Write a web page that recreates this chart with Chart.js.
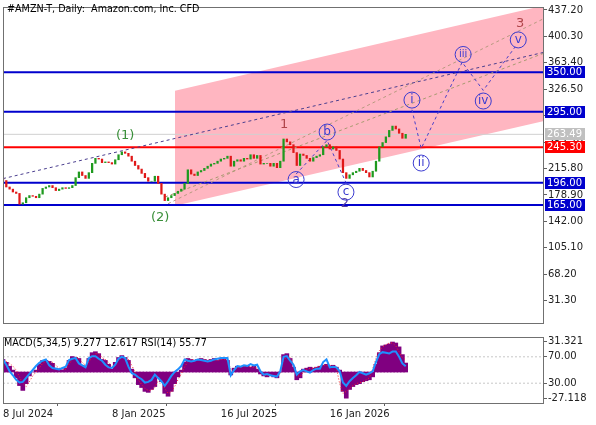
<!DOCTYPE html>
<html><head><meta charset="utf-8">
<script src="https://cdn.jsdelivr.net/npm/chart.js@4.4.1/dist/chart.umd.min.js"></script>
<style>
html,body{margin:0;padding:0;background:#fff;}
#wrap{position:relative;width:596px;height:425px;overflow:hidden;background:#fff;}
#c1{position:absolute;left:0;top:0;}
#c2{position:absolute;left:0;top:330px;}
.txt{position:absolute;font-family:"DejaVu Sans";font-size:9.6px;color:#000;white-space:pre;}
</style></head>
<body>
<div id="wrap">
<canvas id="c1" width="596" height="330"></canvas>
<canvas id="c2" width="596" height="95"></canvas>
<div class="txt" id="title" style="left:7px;top:3px;">#AMZN-T, Daily:  Amazon.com, Inc. CFD</div>
<div class="txt" id="mlab" style="left:4px;top:337px;">MACD(5,34,5) 9.277 12.617 RSI(14) 55.77</div>
</div>
<script>
// ---------- data ----------
const xMax = 163.6;
const xTickIdx = [0, 33, 66, 99];
const xTickLabels = ["8 Jul 2024", "8 Jan 2025", "16 Jul 2025", "16 Jan 2026"];
const yTickValues = [437.20, 400.30, 363.40, 326.50, 289.60, 252.70, 215.80, 178.90, 142.00, 105.10, 68.20, 31.30];
const firstOpen = 202;
const closes = [
 199,190,187,183,181,166,168,175,178,177,
 175,180,188,190,192,189,185,187,189,188,
 189,192,203,211,206,202,210,223,230,229,
 224,225,224,222,228,235,239,237,233,226,
 220,215,209,203,198,198,205,195,180,171,
 175,178,181,184,187,195,214,208,206,211,
 213,216,219,222,223,226,229,230,233,219,
 226,228,226,230,229,235,230,234,222,223,
 223,219,223,217,226,257,253,249,238,220,
 236,234,230,226,231,233,235,246,249,243,
 246,241,229,210,202,207,210,212,216,213,
 210,204,212,226,246,252,260,269,275,271,
 265,258,263.49];
const blueLevels = [350, 295, 196, 165];
const redLevels = [245.3];
const lastPrice = 263.49;
const channelUpper = [[52.1, 324.5], [163.6, 443.0]];
const channelLower = [[52.1, 163.9], [163.6, 281.6]];
const trendPurple = [[0, 201.7], [163.6, 377.7]];
const trendTanA = [[49.1, 176.0], [163.6, 376.3]];
const trendTanB = [[50.0, 166.6], [163.6, 424.5]];
const abcPath = [[88.8, 208], [98.2, 255], [103.9, 196]];
const wavePath = [[123.9, 297.8], [126.7, 243.7], [139.1, 364.1], [145.5, 324.9], [155.2, 385.8]];
const waveText = ["(1)", "(2)", "1", "2", "3"];
const waveTextX = [37.0, 47.6, 85.2, 103.6, 156.7];
const waveTextY = [261.3, 147.6, 277.5, 166.6, 418.3];
const circText = ["a", "b", "c", "i", "ii", "iii", "iv", "v"];
const circX = [88.8, 98.2, 103.9, 123.9, 126.7, 139.4, 145.5, 156.1];
const circY = [200.4, 266.7, 182.8, 311.3, 223.4, 375.0, 310.0, 395.3];

const macdHist = [
 13,10,6,2,-6,-14,-19,-12,-4,0,
 2,8,12,12,11,9,4,3,2,4,
 12,16,15,14,7,5,14,20,21,19,
 13,12,8,3,10,15,17,15,12,3,
 -6,-13,-16,-20,-21,-18,-15,-5,-10,-22,
 -25,-20,-12,-5,2,10,14,13,12,13,
 14,13,12,13,14,12,13,14,12,-3,
 4,6,5,6,7,5,6,3,-2,-4,
 -5,-3,-5,-6,0,18,19,14,5,-8,
 -6,3,4,5,4,5,6,7,8,6,
 7,5,2,-20,-27,-18,-15,-13,-12,-10,
 -9,-8,-5,8,20,27,28,29,31,30,
 26,18,9.277];
const macdSignal = [
 12,11,9,6,2,-5,-12,-15,-10,-4,
 0,4,9,11,11,10,7,4,3,3,
 8,13,15,14,10,7,10,16,19,19,
 15,13,10,6,7,12,15,15,13,7,
 0,-8,-13,-17,-19,-19,-16,-9,-9,-17,
 -22,-21,-15,-8,-2,5,11,13,12,13,
 13,13,12,13,13,12,13,13,12,3,
 2,5,5,6,6,5,5,4,0,-3,
 -4,-3,-4,-5,-2,12,16,15,8,-3,
 -5,0,3,4,4,5,6,7,7,7,
 6,4,-12,-22,-20,-17,-14,-12,-11,-10,
 -8,-6,3,14,22,26,28,30,30,27,
 21,15,12.617];
const rsiValues = [
 66,58,48,42,35,31,32,38,44,50,
 56,61,64,66,57,53,52,51,53,55,
 65,67,68,60,57,54,68,71,71,67,
 64,58,54,53,58,67,70,68,55,45,
 43,39,36,31,32,35,43,38,33,26,
 33,41,47,51,56,66,64,63,64,66,
 65,64,63,64,66,67,68,68,68,42,
 50,56,55,57,56,59,57,58,48,43,
 44,42,41,40,48,70,71,64,58,43,
 48,50,48,46,50,52,52,62,66,54,
 55,54,48,31,26,33,38,42,47,45,
 43,45,48,62,74,77,76,75,78,78,
 70,60,55.77];
const macdTicks = [31.321, -27.118];
const rsiLevels = [70, 30];
const macdMin = -31.99, macdMax = 36.19;

// ---------- helpers ----------
const pts = a => a.map(p => ({x: p[0], y: p[1]}));
const hline = v => [{x: 0, y: v}, {x: xMax, y: v}];
const FONT = 'DejaVu Sans';
const GREEN = '#1f9a1f', RED = '#e01818', BLUE = '#0000cd';

const framePlugin = {
  id: 'frame',
  afterDraw(chart) {
    const {ctx, chartArea: a} = chart;
    ctx.save();
    ctx.strokeStyle = '#707070';
    ctx.lineWidth = 1;
    ctx.strokeRect(a.left + 0.5, a.top + 0.5, a.right - a.left, a.bottom - a.top);
    ctx.restore();
  }
};

const labelPlugin = {
  id: 'waveLabels',
  afterDatasetsDraw(chart) {
    const {ctx, scales: {x, y}} = chart;
    ctx.save();
    ctx.textAlign = 'center';
    ctx.textBaseline = 'middle';
    const colors = ['#3a8f3a', '#3a8f3a', '#b0454a', '#5a3fa0', '#b0454a'];
    waveText.forEach((t, i) => {
      ctx.font = '13px ' + FONT;
      ctx.fillStyle = colors[i];
      ctx.fillText(t, x.getPixelForValue(waveTextX[i]), y.getPixelForValue(waveTextY[i]));
    });
    circText.forEach((t, i) => {
      const px = x.getPixelForValue(circX[i]), py = y.getPixelForValue(circY[i]);
      ctx.beginPath();
      ctx.arc(px, py, 8, 0, Math.PI * 2);
      ctx.strokeStyle = '#3b3bd0';
      ctx.lineWidth = 1;
      ctx.stroke();
      ctx.fillStyle = '#3b3bd0';
      ctx.font = (t.length > 2 ? '10px ' : '12px ') + FONT;
      ctx.fillText(t, px, py);
    });
    ctx.restore();
  },
  afterDraw(chart) {
    const {ctx, scales: {y}, chartArea: a} = chart;
    ctx.save();
    ctx.font = '10px ' + FONT;
    ctx.textBaseline = 'middle';
    ctx.textAlign = 'left';
    const box = (v, bg) => {
      const py = Math.round(y.getPixelForValue(v));
      ctx.fillStyle = bg;
      ctx.fillRect(a.right + 2, py - 6, 40, 12);
      ctx.fillStyle = '#fff';
      ctx.fillText(v.toFixed(2), a.right + 4, py);
    };
    box(lastPrice, '#c0c0c0');
    blueLevels.forEach(v => box(v, BLUE));
    redLevels.forEach(v => box(v, '#ff0000'));
    ctx.restore();
  }
};

const lineDs = (data, color, extra) => Object.assign({
  type: 'line', data, borderColor: color, borderWidth: 1, pointRadius: 0, fill: false, tension: 0
}, extra || {});

// ---------- main chart ----------
new Chart(document.getElementById('c1'), {
  type: 'bar',
  data: {
    datasets: [
      {
        type: 'bar',
        data: closes.map((c, i) => ({x: i, y: [i ? closes[i - 1] : firstOpen, c]})),
        backgroundColor: ctx => (ctx.raw && ctx.raw.y[1] >= ctx.raw.y[0]) ? GREEN : RED,
        barThickness: 1.6, order: 1
      },
      lineDs(pts(wavePath), '#4a3fc8', {borderDash: [3, 3], order: 2}),
      lineDs(pts(abcPath), '#4a3fc8', {borderDash: [3, 3], order: 3}),
      lineDs(pts(trendPurple), '#4b3f8f', {borderDash: [3, 3], order: 4}),
      lineDs(pts(trendTanA), '#a89a70', {borderDash: [3, 3], order: 5}),
      lineDs(pts(trendTanB), '#b89a80', {borderDash: [3, 3], order: 5}),
      ...blueLevels.map(v => lineDs(hline(v), BLUE, {borderWidth: 2, order: 6})),
      ...redLevels.map(v => lineDs(hline(v), '#ff0000', {borderWidth: 2, order: 6})),
      lineDs(hline(lastPrice), '#d0d0d0', {order: 7}),
      lineDs(pts(channelUpper), 'rgba(0,0,0,0)', {borderWidth: 0, fill: '+1', backgroundColor: '#ffb6c1', order: 100}),
      lineDs(pts(channelLower), 'rgba(0,0,0,0)', {borderWidth: 0, order: 101})
    ]
  },
  options: {
    responsive: false, devicePixelRatio: 1, animation: false,
    layout: {padding: {left: 3, top: 1, right: 0, bottom: 3}},
    plugins: {legend: {display: false}, tooltip: {enabled: false}},
    scales: {
      x: {type: 'linear', min: 0, max: xMax, display: false, offset: false},
      y: {
        position: 'right', min: 0.12, max: 441.26,
        afterFit(s) { s.width = 53; },
        afterBuildTicks(s) { s.ticks = yTickValues.map(v => ({value: v})); },
        ticks: {callback: v => Number(v).toFixed(2), font: {family: FONT, size: 10}, color: '#222', padding: 1, autoSkip: false},
        grid: {drawOnChartArea: false, drawTicks: true, tickLength: 4, tickColor: '#606060'},
        border: {color: '#606060'}
      }
    }
  },
  plugins: [framePlugin, labelPlugin]
});

// ---------- MACD / RSI panel ----------
const toR = m => (m - macdMin) / (macdMax - macdMin) * 100;
const rTickVals = [toR(macdTicks[0]), rsiLevels[0], rsiLevels[1], toR(macdTicks[1])];
const rTickText = [macdTicks[0].toFixed(3), rsiLevels[0].toFixed(2), rsiLevels[1].toFixed(2), macdTicks[1].toFixed(3)];

new Chart(document.getElementById('c2'), {
  type: 'bar',
  data: {
    datasets: [
      {type: 'bar', data: macdHist.map((v, i) => ({x: i, y: v})), yAxisID: 'ym', backgroundColor: '#800080', barThickness: 4, order: 5},
      lineDs(macdSignal.map((v, i) => ({x: i, y: v})), '#ff2020', {yAxisID: 'ym', borderDash: [1, 2], order: 3}),
      lineDs(rsiValues.map((v, i) => ({x: i, y: v})), '#1e90ff', {yAxisID: 'yr', borderWidth: 2, order: 1}),
      ...rsiLevels.map(v => lineDs(hline(v), '#c8c8c8', {yAxisID: 'yr', borderDash: [2, 2], order: 6}))
    ]
  },
  options: {
    responsive: false, devicePixelRatio: 1, animation: false,
    layout: {padding: {left: 3, top: 3, right: 0, bottom: 0}},
    plugins: {legend: {display: false}, tooltip: {enabled: false}},
    scales: {
      x: {
        type: 'linear', min: 0, max: xMax, offset: false,
        afterFit(s) { s.height = 22; },
        afterBuildTicks(s) { s.ticks = xTickIdx.map(v => ({value: v})); },
        ticks: {callback: v => xTickLabels[xTickIdx.indexOf(v)], align: 'start', maxRotation: 0, autoSkip: false,
                font: {family: FONT, size: 10}, color: '#222', padding: 2},
        grid: {drawOnChartArea: false, tickLength: 3, tickColor: '#606060'},
        border: {color: '#606060'}
      },
      yr: {
        position: 'right', min: 0, max: 100,
        afterFit(s) { s.width = 53; },
        afterBuildTicks(s) { s.ticks = rTickVals.map(v => ({value: v})); },
        ticks: {callback: (v, i) => rTickText[i], font: {family: FONT, size: 10}, color: '#222', padding: 1, autoSkip: false},
        grid: {drawOnChartArea: false, tickLength: 4, tickColor: '#606060'},
        border: {color: '#606060'}
      },
      ym: {display: false, min: macdMin, max: macdMax}
    }
  },
  plugins: [framePlugin]
});
</script>
</body></html>
